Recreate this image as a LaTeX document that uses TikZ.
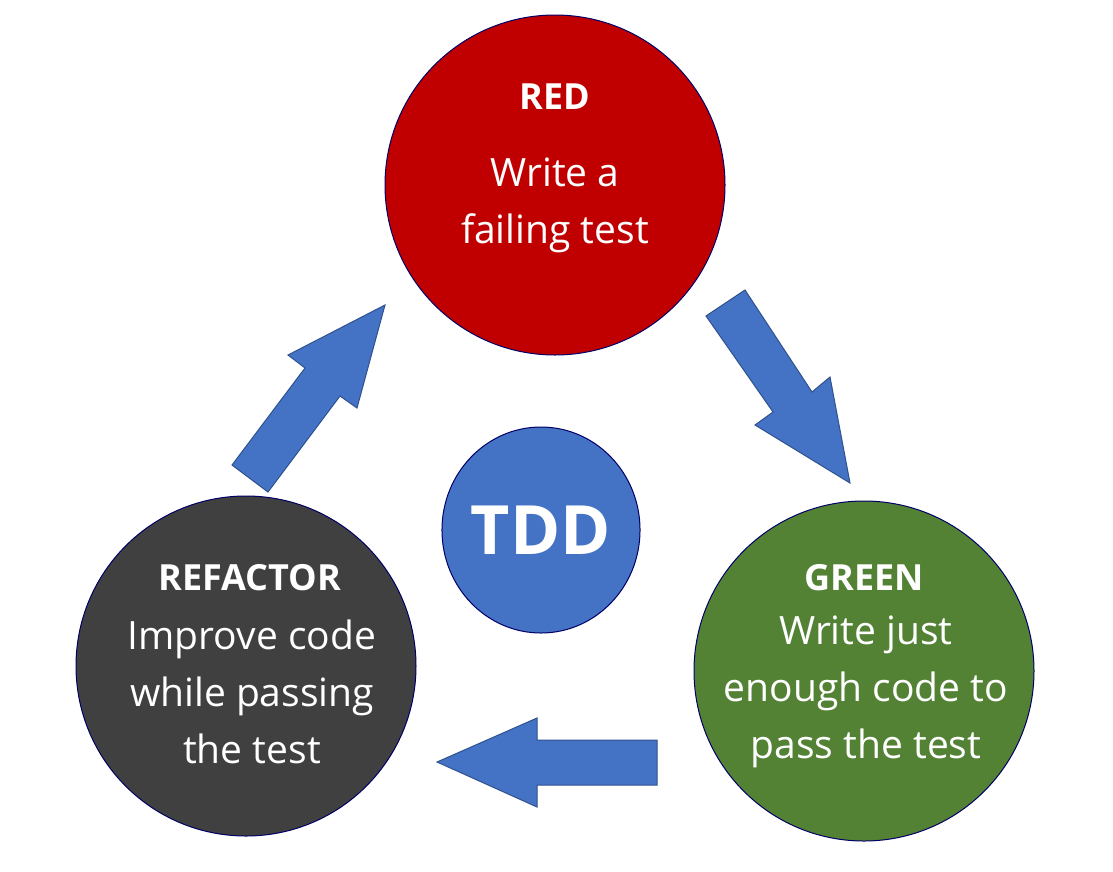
\documentclass[tikz,border=0pt]{standalone}
\usepackage{fontspec}
\setmainfont{Open Sans}
\usetikzlibrary{shapes.geometric}
\begin{document}
\begin{tikzpicture}[x=1pt,y=-1pt,
  circ/.style={circle,draw=blue!40!black,line width=1pt,minimum size=340pt,inner sep=0pt,text=white,align=center},
  barrow/.style={fill={rgb,255:red,68;green,114;blue,196},draw={rgb,255:red,47;green,82;blue,143},line width=1pt},
  ttl/.style={font=\fontsize{36}{46}\selectfont\bfseries},
  body/.style={font=\fontsize{39}{57}\selectfont}]
\useasboundingbox (0,0) rectangle (1113,871);
\node[circ,fill={rgb,255:red,192;green,0;blue,0}] (red) at (555,185) {};
\node[circ,fill={rgb,255:red,84;green,130;blue,53}] (green) at (864,671) {};
\node[circ,fill={rgb,255:red,64;green,64;blue,64}] (ref) at (246,666) {};
\node[ellipse,draw=blue!40!black,line width=1pt,fill={rgb,255:red,68;green,114;blue,196},minimum width=172pt,minimum height=206pt,inner sep=0pt,text=white,font=\fontsize{68}{72}\selectfont\bfseries] (tdd) at (541,530) {TDD};
\node[ttl,text=white] (redt) at (555,97) {RED};
\node[body,text=white,align=center] (redb) at (555,205) {Write a\\failing test};
\node[ttl,text=white] (greent) at (864,578) {GREEN};
\node[body,text=white,align=center] (greenb) at (866,692) {Write just\\enough code to\\pass the test};
\node[ttl,text=white] (reft) at (250,578) {REFACTOR};
\node[body,text=white,align=center] (refb) at (252,692) {Improve code\\while passing\\the test};
\draw[barrow] (706,316) -- (745,290) -- (812,392) -- (830,377) -- (850,483) -- (755,425) -- (773,412) -- cycle;
\draw[barrow] (657,740) -- (657,785) -- (537,785) -- (537,807) -- (437,762) -- (537,718) -- (537,740) -- cycle;
\draw[barrow] (232,465) -- (268,492) -- (340,396) -- (357,408) -- (385,305) -- (288,355) -- (305,368) -- cycle;
\end{tikzpicture}
\end{document}
